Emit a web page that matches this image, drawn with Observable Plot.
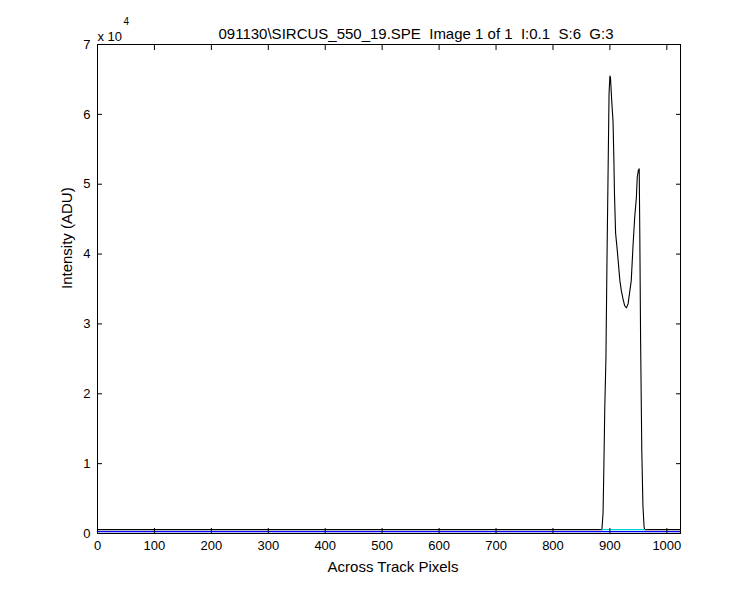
<!DOCTYPE html>
<html>
<head>
<meta charset="utf-8">
<script src="https://cdn.jsdelivr.net/npm/d3@7"></script>
<script src="https://cdn.jsdelivr.net/npm/@observablehq/plot@0.6"></script>
<style>
  html, body { margin: 0; padding: 0; background: #fff; }
  #chart svg { display: block; }
</style>
</head>
<body>
<div id="chart"></div>
<script>
const titleText = "091130\\SIRCUS_550_19.SPE  Image 1 of 1  I:0.1  S:6  G:3";
const xLabel = "Across Track Pixels";
const yLabel = "Intensity (ADU)";
const xTicks = [0, 100, 200, 300, 400, 500, 600, 700, 800, 900, 1000];
const yTicks = [0, 10000, 20000, 30000, 40000, 50000, 60000, 70000];
const xDomain = [0, 1024];
const yDomain = [0, 70000];

// main black intensity profile
const curveX = [0, 886, 888, 889.5, 891, 893, 895, 897, 898.5, 900, 901, 902.5, 903.5, 905.5, 907, 908, 910, 913, 915, 917.5, 920, 923, 926, 929, 932, 934.5, 937.5, 940.5, 943.5, 946.5, 948, 950, 951.5, 952.5, 954, 956, 958, 960, 961, 1024];
const curveY = [550, 550, 3000, 10000, 18000, 25000, 40000, 53000, 63000, 65500, 65300, 63000, 61500, 59000, 53500, 48700, 43000, 40500, 38600, 36200, 34800, 33600, 32600, 32300, 32900, 34400, 36200, 41000, 45200, 48100, 51000, 52000, 52200, 43000, 27000, 12000, 4000, 1000, 550, 550];

// blue background line
const blueX = [0, 1024];
const blueY = [280, 280];

// cyan segment under the peak
const cyanX = [886, 961];
const cyanY = [550, 550];

const curve = curveX.map((x, i) => ({x, y: curveY[i]}));
const blue = blueX.map((x, i) => ({x, y: blueY[i]}));
const cyan = cyanX.map((x, i) => ({x, y: cyanY[i]}));

const font = "'Liberation Sans', Arial, Helvetica, sans-serif";

const plot = Plot.plot({
  width: 750,
  height: 600,
  marginLeft: 97,
  marginRight: 70,
  marginTop: 44,
  marginBottom: 67,
  style: {fontFamily: font, fontSize: "13px", color: "#000", background: "#fff"},
  x: {domain: xDomain},
  y: {domain: yDomain},
  marks: [
    Plot.line(blue, {x: "x", y: "y", stroke: "#0000ff", strokeWidth: 1.2}),
    Plot.line(curve, {x: "x", y: "y", stroke: "#000", strokeWidth: 1.1}),
    Plot.line(cyan, {x: "x", y: "y", stroke: "#00d0d0", strokeWidth: 1.2}),
    Plot.frame({stroke: "#000", strokeWidth: 1, shapeRendering: "crispEdges"}),
    Plot.axisX({anchor: "bottom", ticks: xTicks, tickSize: -5, tickPadding: 12, tickFormat: d => String(d), label: null, fontSize: 13}),
    Plot.axisX({anchor: "top", ticks: xTicks, tickSize: -5, tickFormat: () => "", label: null}),
    Plot.axisY({anchor: "left", ticks: yTicks, tickSize: -5, tickPadding: 12, tickFormat: d => String(d / 10000), label: null, fontSize: 13}),
    Plot.axisY({anchor: "right", ticks: yTicks, tickSize: -5, tickFormat: () => "", label: null}),
    Plot.text([xLabel], {frameAnchor: "bottom", dx: 4, dy: 28, text: d => d, fontSize: 15, lineAnchor: "top"}),
    Plot.text([yLabel], {frameAnchor: "left", dx: -30, rotate: -90, text: d => d, fontSize: 15}),
    Plot.text([titleText], {frameAnchor: "top", dx: 27, dy: -16, text: d => d, fontSize: 15}),
    Plot.text(["x 10"], {frameAnchor: "top-left", dx: 0, dy: -13, text: d => d, fontSize: 13, textAnchor: "start"}),
    Plot.text(["4"], {frameAnchor: "top-left", dx: 26, dy: -27, text: d => d, fontSize: 10, textAnchor: "start"})
  ]
});
document.getElementById("chart").appendChild(plot);
</script>
</body>
</html>
